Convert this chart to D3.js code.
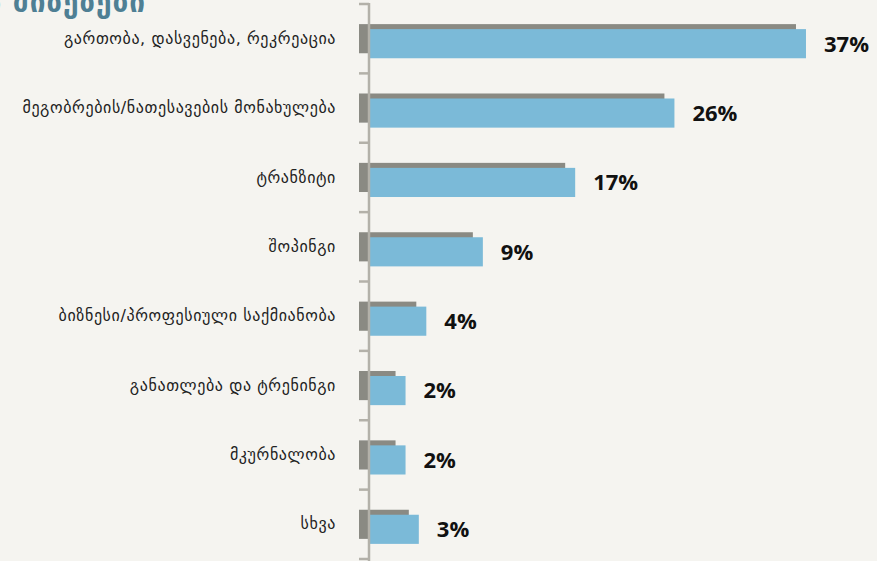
<!DOCTYPE html>
<html>
<head>
<meta charset="utf-8">
<script src="https://cdn.jsdelivr.net/npm/d3@7"></script>
<style>
  body { margin: 0; background: #f5f4f0; }
  svg { display: block; }
</style>
</head>
<body>
<div id="chart"></div>
<script>
var w = 877;
var h = 561;

var categories = [
  'გართობა, დასვენება, რეკრეაცია',
  'მეგობრების/ნათესავების მონახულება',
  'ტრანზიტი',
  'შოპინგი',
  'ბიზნესი/პროფესიული საქმიანობა',
  'განათლება და ტრენინგი',
  'მკურნალობა',
  'სხვა'
];
var shares = [37.0, 25.6, 17.0, 9.0, 4.1, 2.3, 2.3, 3.45];
var title = 'ვიზიტის მიზეზები';

var dataset = categories.map(function(c, i) { return {cat: c, val: shares[i]}; });

var axisX = 369;
var depth = {x: 10, y: 5};

var x = d3.scaleLinear()
  .domain([0, 40])
  .range([depth.x, depth.x + 11.54 * 40]);

var y = d3.scaleBand()
  .domain(categories)
  .range([4, 559])
  .padding(0);

var barH = y.bandwidth() * 0.42;

var svg = d3.select('#chart')
  .append('svg')
    .attr('width', w)
    .attr('height', h)
    .style('background', '#f5f4f0');

// title, mostly cut off at the top
svg.append('text')
  .attr('x', 146)
  .attr('y', 12)
  .attr('text-anchor', 'end')
  .style('font-family', 'DejaVu Sans, sans-serif')
  .style('font-size', '28px')
  .style('font-weight', 'bold')
  .style('letter-spacing', '1px')
  .style('fill', '#4e7f94')
  .text(title);

var g = svg.append('g')
  .attr('transform', 'translate(' + [axisX, 0] + ')');

var bar = g.selectAll('.bar')
  .data(dataset)
  .enter().append('g')
    .attr('class', 'bar')
    .attr('transform', function(d) {
      return 'translate(' + [0, y(d.cat) + (y.bandwidth() - barH) / 2] + ')';
    });

// back face
bar.append('rect')
  .attr('x', -depth.x)
  .attr('y', 0)
  .attr('width', function(d) { return x(d.val); })
  .attr('height', barH)
  .style('fill', '#8a8a83');

// front face
bar.append('rect')
  .attr('x', 0)
  .attr('y', depth.y)
  .attr('width', function(d) { return x(d.val); })
  .attr('height', barH)
  .style('fill', '#7bbad8');

bar.append('text')
  .attr('x', function(d) { return x(d.val) + 18; })
  .attr('y', depth.y + barH / 2)
  .attr('dy', '0.36em')
  .style('font-family', 'Open Sans, sans-serif')
  .style('font-size', '22px')
  .style('font-weight', 'bold')
  .style('fill', '#111')
  .text(function(d) { return Math.round(d.val) + '%'; });

var yAxis = d3.axisLeft(y)
  .tickSize(0)
  .tickPadding(33);

var yAxisG = g.append('g')
  .attr('class', 'y axis')
  .call(yAxis);
yAxisG.select('.domain').remove();
yAxisG.selectAll('text')
  .style('font-family', 'DejaVu Sans, sans-serif')
  .style('font-size', '16px')
  .style('letter-spacing', '0.6px')
  .style('fill', '#222');

// axis line and boundary ticks
var bounds = categories.map(function(c) { return y(c); }).concat([y.range()[1]]);
g.selectAll('.tick-b')
  .data(bounds)
  .enter().append('line')
    .attr('class', 'tick-b')
    .attr('x1', -10)
    .attr('x2', 0)
    .attr('y1', function(d) { return d; })
    .attr('y2', function(d) { return d; })
    .style('stroke', '#b3b1a9')
    .style('stroke-width', 2.5);

g.append('line')
  .attr('x1', 0)
  .attr('x2', 0)
  .attr('y1', y.range()[0] - 1)
  .attr('y2', h)
  .style('stroke', '#b3b1a9')
  .style('stroke-width', 2.5);
</script>
</body>
</html>
